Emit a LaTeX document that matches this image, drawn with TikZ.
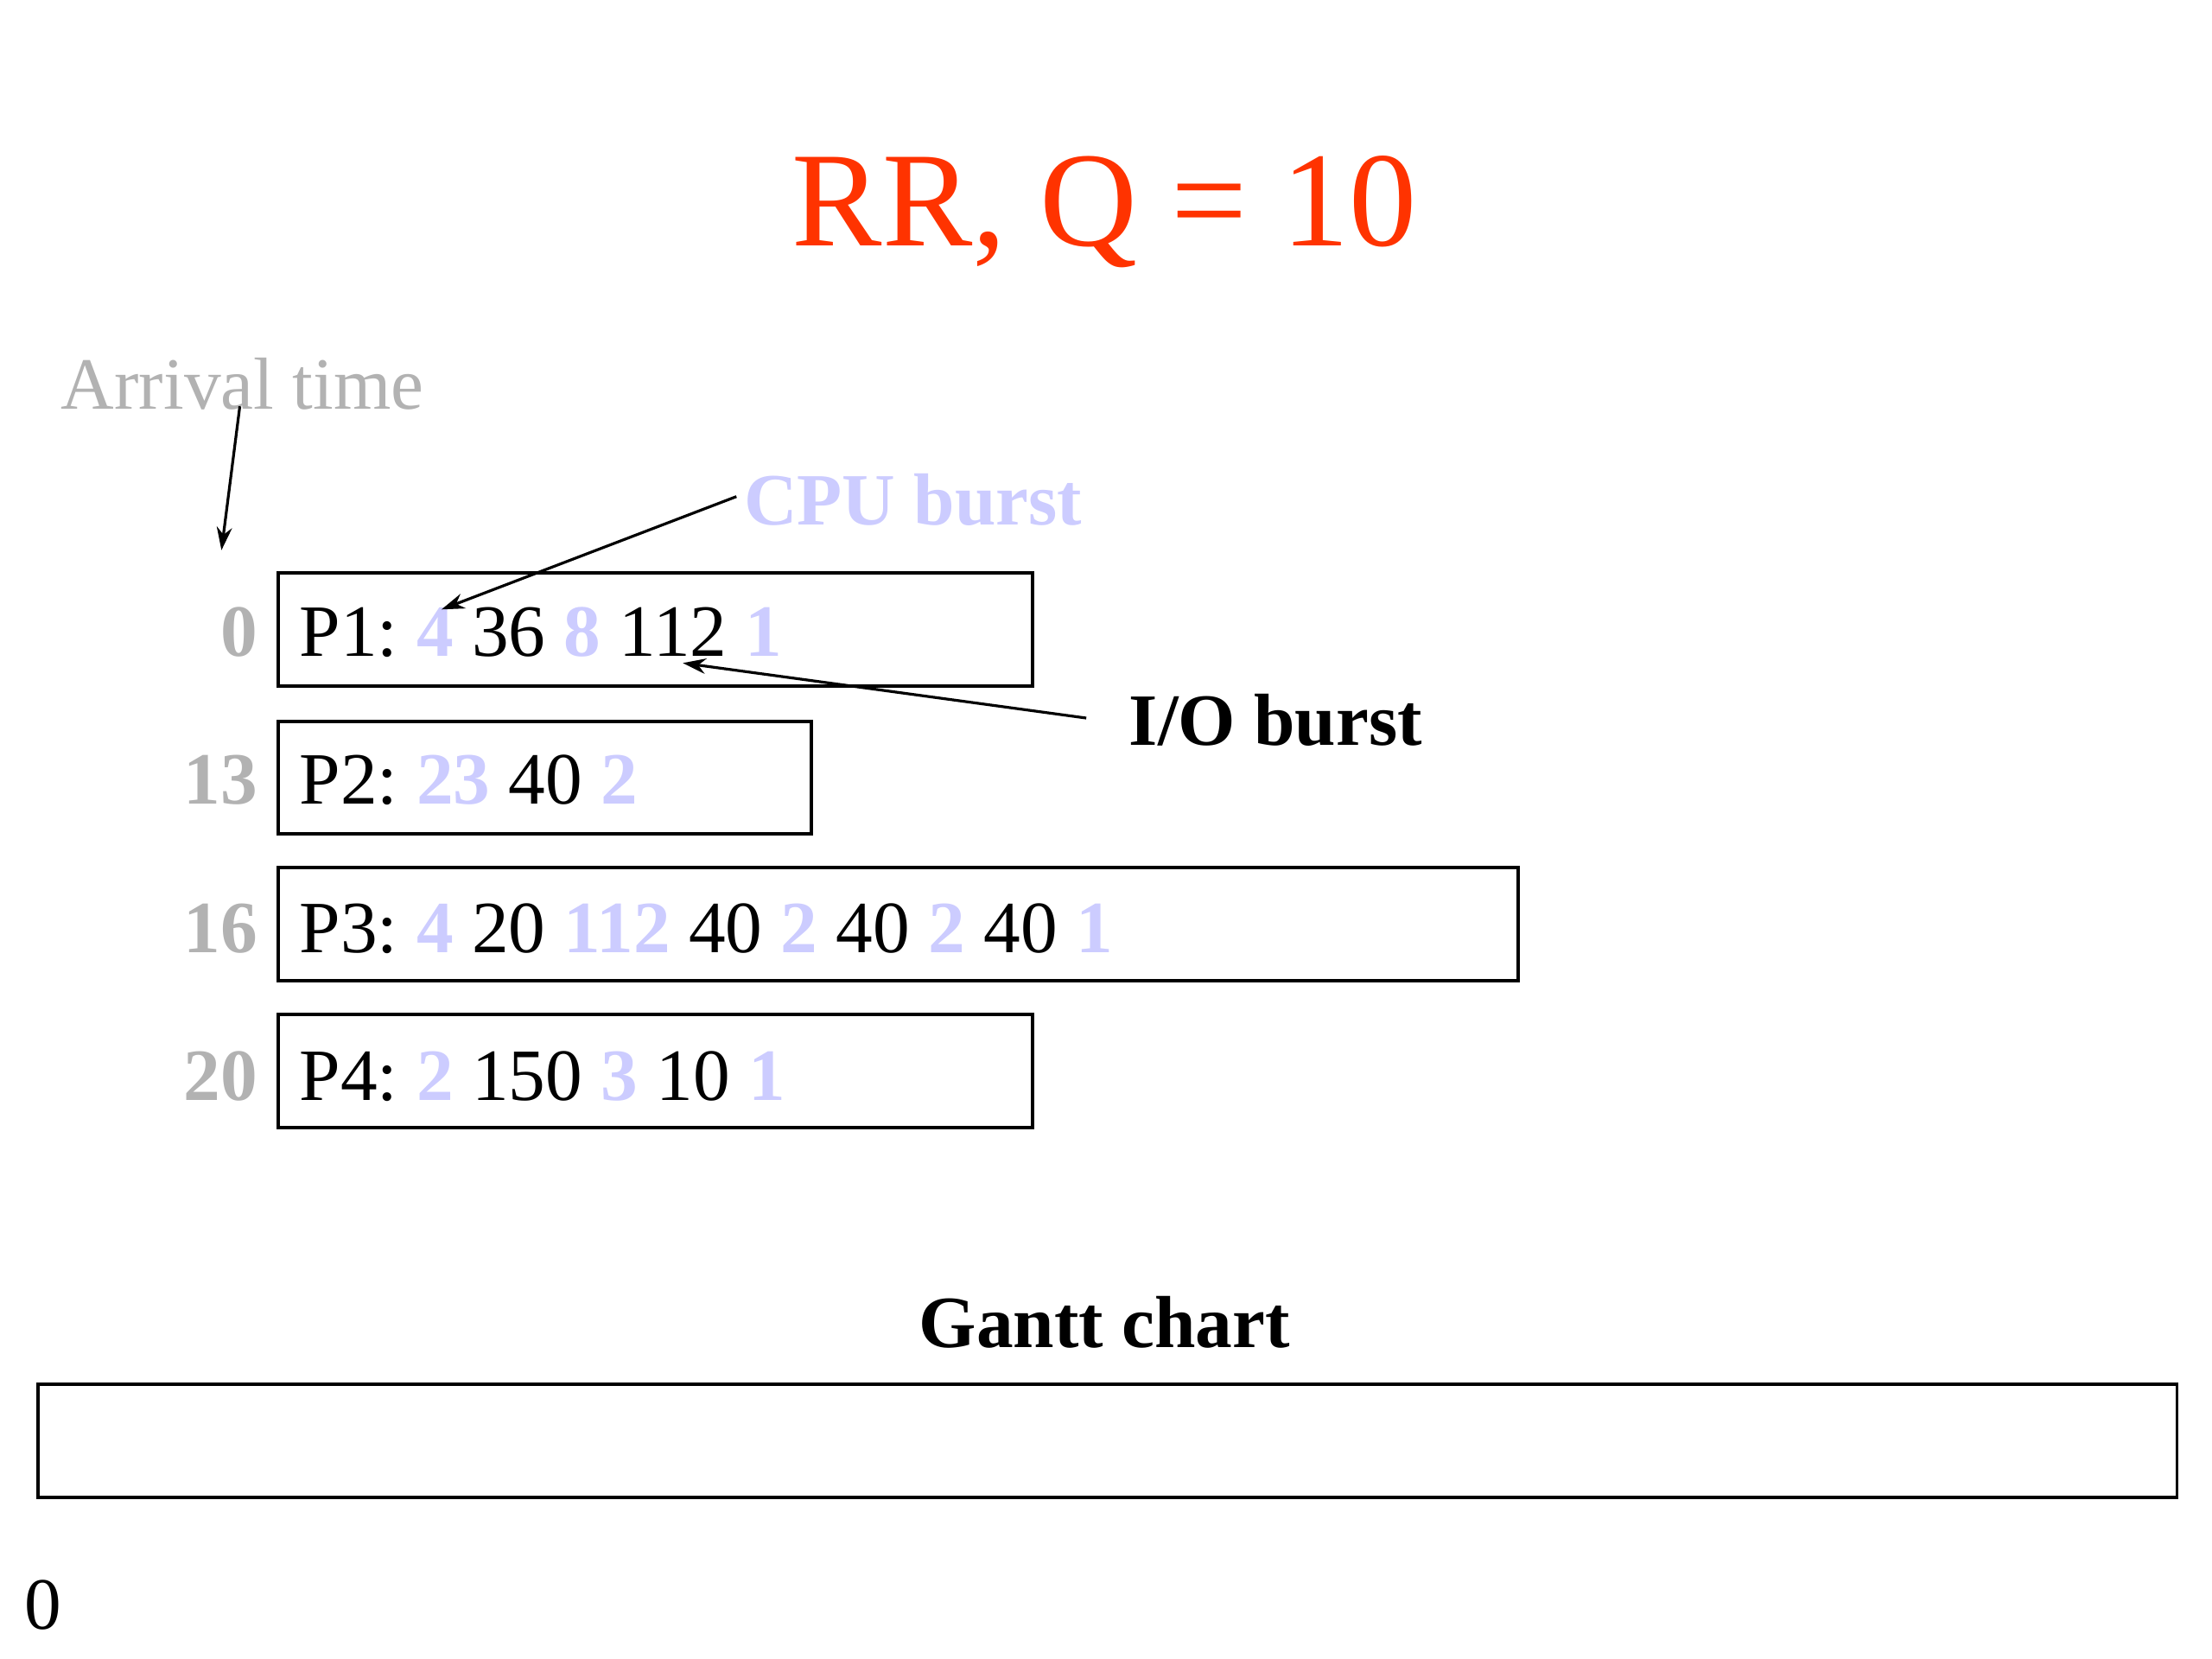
\documentclass[tikz,border=0pt]{standalone}
\usepackage{fontspec}
\setmainfont{Liberation Serif}
\usetikzlibrary{arrows.meta}
\definecolor{titlered}{RGB}{255,51,0}
\definecolor{arrgray}{RGB}{178,178,178}
\definecolor{cpucol}{RGB}{204,204,255}
\newcommand\pxu{0.459184pt}
\newcommand\cb[1]{{\bfseries\color{cpucol}#1}}
\frenchspacing
\begin{document}
\begin{tikzpicture}[x=0.459184pt,y=-0.459184pt,
  txt/.style={inner sep=0pt, font=\fontsize{24}{28}\selectfont},
  arrnum/.style={txt, anchor=base east, text=arrgray, font=\fontsize{24}{28}\selectfont\bfseries},
  ptxt/.style={txt, anchor=base west},
  procbox/.style={draw, line width=1.1pt, anchor=north west, minimum height=80*\pxu, inner sep=0pt},
  pointer/.style={line width=0.9pt, -{Stealth[length=7.5pt,width=5pt]}}]
\useasboundingbox (0,0) rectangle (1568,1176);
% title
\node[inner sep=0pt, anchor=base, text=titlered, font=\fontsize{44}{50}\selectfont] (title) at (783,174) {RR, Q = 10};
% labels
\node[ptxt, text=arrgray] (arrival) at (43,290) {Arrival time};
\node[ptxt, text=cpucol, font=\fontsize{24}{28}\selectfont\bfseries] (cpu) at (527,372) {CPU burst};
\node[ptxt, font=\fontsize{24}{28}\selectfont\bfseries] (io) at (800,528) {I/O burst};
% process boxes
\node[procbox, minimum width=535*\pxu] (b1) at (196,405) {};
\node[procbox, minimum width=378*\pxu] (b2) at (196,510) {};
\node[procbox, minimum width=879*\pxu] (b3) at (196,614) {};
\node[procbox, minimum width=535*\pxu] (b4) at (196,718) {};
% arrival numbers
\node[arrnum] (a1) at (183,465) {0};
\node[arrnum] (a2) at (183,570) {13};
\node[arrnum] (a3) at (183,675) {16};
\node[arrnum] (a4) at (183,780) {20};
% process texts
\node[ptxt] (p1) at (212,465) {P1: \cb{4} 36 \cb{8} 112 \cb{1}};
\node[ptxt] (p2) at (212,570) {P2: \cb{23} 40 \cb{2}};
\node[ptxt] (p3) at (212,675) {P3: \cb{4} 20 \cb{112} 40 \cb{2} 40 \cb{2} 40 \cb{1}};
\node[ptxt] (p4) at (212,780) {P4: \cb{2} 150 \cb{3} 10 \cb{1}};
% pointers
\coordinate (arrS) at (170,288);
\coordinate (arrE) at (157,390);
\coordinate (cpuS) at (522,352);
\coordinate (cpuE) at (313,432);
\coordinate (ioS) at (770,509);
\coordinate (ioE) at (484,470);
\draw[pointer] (arrS) -- (arrE);
\draw[pointer] (cpuS) -- (cpuE);
\draw[pointer] (ioS) -- (ioE);
% gantt
\node[inner sep=0pt, anchor=base, font=\fontsize{24}{28}\selectfont\bfseries] (gtitle) at (783,955) {Gantt chart};
\node[procbox, minimum width=1516*\pxu] (gantt) at (26,980) {};
\node[ptxt] (g0) at (17,1155) {0};
\end{tikzpicture}
\end{document}
